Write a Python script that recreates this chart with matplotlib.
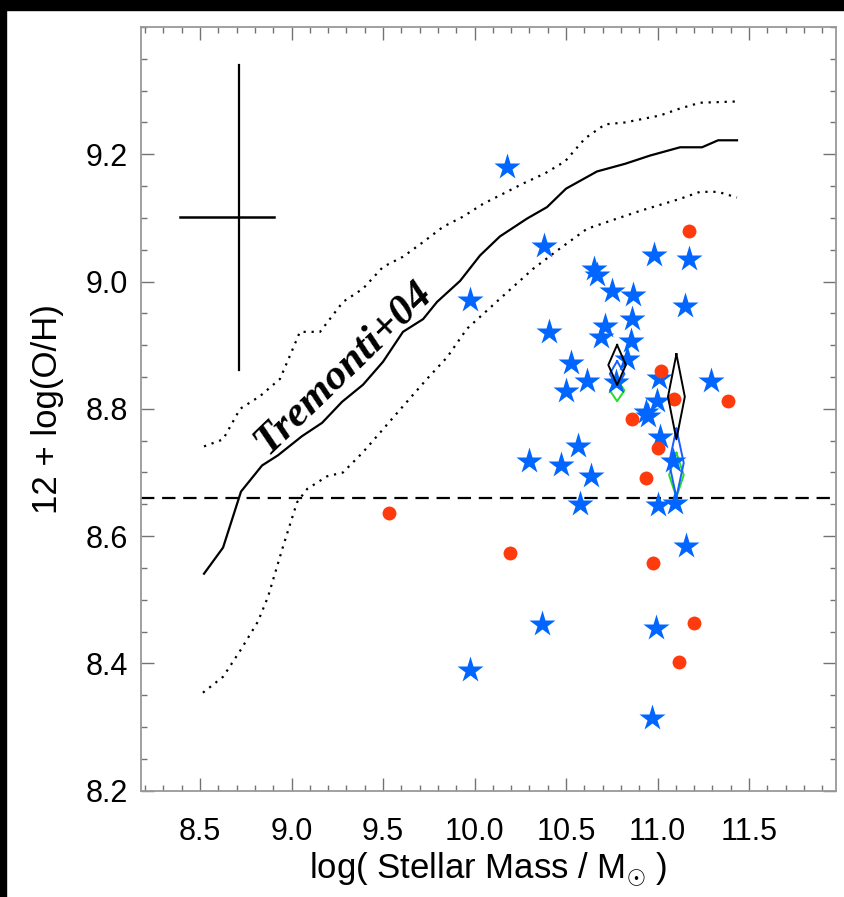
"""
Mass-metallicity plot: stars / circles against the Tremonti+04 relation
"""
import numpy as np
import matplotlib
matplotlib.use('Agg')
from matplotlib import pyplot as plt
from matplotlib.ticker import MultipleLocator, FixedLocator, FormatStrFormatter
from matplotlib.patches import Rectangle

# Tremonti+04 median and contours
trem_x = [8.522, 8.626, 8.724, 8.839, 8.926, 9.057, 9.167, 9.276, 9.391, 9.500,
          9.609, 9.719, 9.795, 9.921, 10.030, 10.139, 10.287, 10.396, 10.500,
          10.669, 10.822, 10.959, 11.123, 11.243, 11.331, 11.434]
trem_y = [8.541, 8.582, 8.670, 8.711, 8.727, 8.757, 8.778, 8.811, 8.838, 8.874,
          8.921, 8.941, 8.968, 9.001, 9.041, 9.071, 9.099, 9.117, 9.146,
          9.173, 9.185, 9.198, 9.211, 9.211, 9.222, 9.222]

up_x = [8.522, 8.626, 8.719, 8.828, 8.937, 8.992, 9.046, 9.156, 9.281, 9.391,
        9.500, 9.609, 9.719, 9.828, 9.937, 10.046, 10.156, 10.265, 10.385,
        10.495, 10.604, 10.713, 10.822, 11.014, 11.123, 11.232, 11.434]
up_y = [8.741, 8.752, 8.800, 8.820, 8.847, 8.884, 8.921, 8.921, 8.968, 8.989,
        9.023, 9.039, 9.062, 9.086, 9.102, 9.122, 9.138, 9.154, 9.170,
        9.189, 9.225, 9.247, 9.250, 9.261, 9.272, 9.281, 9.283]

lo_x = [8.516, 8.626, 8.724, 8.817, 8.872, 8.954, 9.030, 9.085, 9.194, 9.281,
        9.391, 9.500, 9.609, 9.740, 9.850, 9.959, 10.139, 10.320, 10.467,
        10.615, 10.779, 10.904, 11.123, 11.232, 11.331, 11.434]
lo_y = [8.354, 8.379, 8.422, 8.466, 8.505, 8.584, 8.653, 8.674, 8.694, 8.700,
        8.732, 8.768, 8.804, 8.847, 8.881, 8.926, 8.973, 9.020, 9.052,
        9.083, 9.099, 9.111, 9.130, 9.141, 9.141, 9.132]

# galaxies (stars)
star_x = [10.178, 9.975, 10.380, 10.653, 10.669, 10.981, 11.172, 10.751, 10.866,
          11.150, 10.407, 10.713, 10.861, 10.691, 10.855, 10.527, 10.833, 10.615,
          10.500, 10.773, 11.008, 11.292, 10.997, 10.937, 10.948, 11.014, 11.085,
          10.298, 10.473, 10.566, 10.637, 10.577, 11.003, 11.096, 11.156, 10.369,
          9.975, 10.992, 10.970]
star_y = [9.180, 8.971, 9.056, 9.020, 9.011, 9.041, 9.036, 8.985, 8.979,
          8.962, 8.921, 8.930, 8.941, 8.913, 8.907, 8.872, 8.878, 8.843,
          8.828, 8.842, 8.849, 8.844, 8.812, 8.795, 8.788, 8.755, 8.718,
          8.718, 8.711, 8.741, 8.694, 8.650, 8.649, 8.652, 8.585, 8.462,
          8.389, 8.456, 8.315]

# galaxies (circles)
circ_x = [9.533, 10.194, 10.975, 11.199, 11.117, 10.937, 11.172, 11.019,
          11.090, 10.861, 11.003, 11.385]
circ_y = [8.636, 8.573, 8.557, 8.464, 8.403, 8.692, 9.080, 8.859,
          8.815, 8.784, 8.738, 8.812]

# stacked values: centre, half height, half width
dia_x = [10.779, 10.779, 10.779, 11.103, 11.103, 11.103]
dia_y = [8.829, 8.855, 8.869, 8.696, 8.715, 8.819]
dia_dy = [0.017, 0.020, 0.0315, 0.035, 0.054, 0.067]
dia_dx = [0.040, 0.040, 0.048, 0.040, 0.040, 0.046]
dia_col = ['#22dd22', '#1a5cff', 'black', '#22dd22', '#1a5cff', 'black']

# typical error bar
err_xlo, err_xhi, err_yh = 8.391, 8.904, 9.101
err_xv, err_ylo, err_yhi = 8.715, 8.861, 9.341

solar = 8.66

plt.rcParams['font.family'] = ['Liberation Sans', 'DejaVu Sans']
plt.rcParams['mathtext.fontset'] = 'custom'
plt.rcParams['mathtext.rm'] = 'Liberation Sans'

fig = plt.figure(figsize=(8.45, 8.97), dpi=100)
ax = fig.add_axes([140.7/845, 1 - 790.7/897, (836 - 140.7)/845, (790.7 - 27)/897])

# black frame around the page
fig.patches.append(Rectangle((0, 1 - 10/897), 1, 10/897, transform=fig.transFigure,
                             color='black', zorder=0))
fig.patches.append(Rectangle((0, 0), 6/845, 1, transform=fig.transFigure,
                             color='black', zorder=0))

ax.plot(trem_x, trem_y, color='black', lw=1.6)
ax.plot(up_x, up_y, color='black', lw=1.6, ls=(0, (1, 2.6)))
ax.plot(lo_x, lo_y, color='black', lw=1.6, ls=(0, (1, 2.6)))
ax.axhline(solar, color='black', lw=1.6, ls=(0, (6, 3.5)))

# coloured stacks go under the galaxies, black ones on top
for x, y, dy, dx, c in zip(dia_x, dia_y, dia_dy, dia_dx, dia_col):
    z = 4 if c == 'black' else 2
    ax.plot([x, x + dx, x, x - dx, x], [y + dy, y, y - dy, y, y + dy], color=c,
            lw=1.4, zorder=z)

ax.plot(star_x, star_y, ls='none', marker='*', ms=20, color='#0066ff', mec='none',
        zorder=3)
ax.plot(circ_x, circ_y, ls='none', marker='o', ms=10, color='#ff3a0c', mec='none',
        zorder=3)

ax.plot([err_xlo, err_xhi], [err_yh, err_yh], color='black', lw=1.8)
ax.plot([err_xv, err_xv], [err_ylo, err_yhi], color='black', lw=1.6)

ax.text(9.285, 8.865, 'Tremonti+04', rotation=44, rotation_mode='anchor',
        ha='center', va='center', fontsize=31, fontweight='bold', fontstyle='italic',
        family='Liberation Serif')

ax.set_xlim(8.176, 11.975)
ax.set_ylim(8.2, 9.4)
ax.xaxis.set_major_locator(MultipleLocator(0.5))
ax.xaxis.set_minor_locator(MultipleLocator(0.1))
ax.yaxis.set_major_locator(FixedLocator([8.2, 8.4, 8.6, 8.8, 9.0, 9.2]))
ax.yaxis.set_minor_locator(MultipleLocator(0.05))
ax.xaxis.set_major_formatter(FormatStrFormatter('%.1f'))
ax.yaxis.set_major_formatter(FormatStrFormatter('%.1f'))
ax.tick_params(which='both', direction='in', top=True, right=True, color='0.45')
ax.tick_params(which='major', length=9.5, width=1, labelsize=22)
ax.tick_params(which='minor', length=4.5, width=1)
ax.tick_params(axis='x', which='major', pad=19)
ax.tick_params(axis='y', which='major', pad=9)
for s in ax.spines.values():
    s.set_color('0.6')
    s.set_linewidth(1.3)

ax.set_xlabel(r'log( Stellar Mass / M$_{\odot}$ )', fontsize=25, labelpad=2)
ax.set_ylabel('12 + log(O/H)', fontsize=25, labelpad=16)

plt.savefig('out.png', dpi=100)
